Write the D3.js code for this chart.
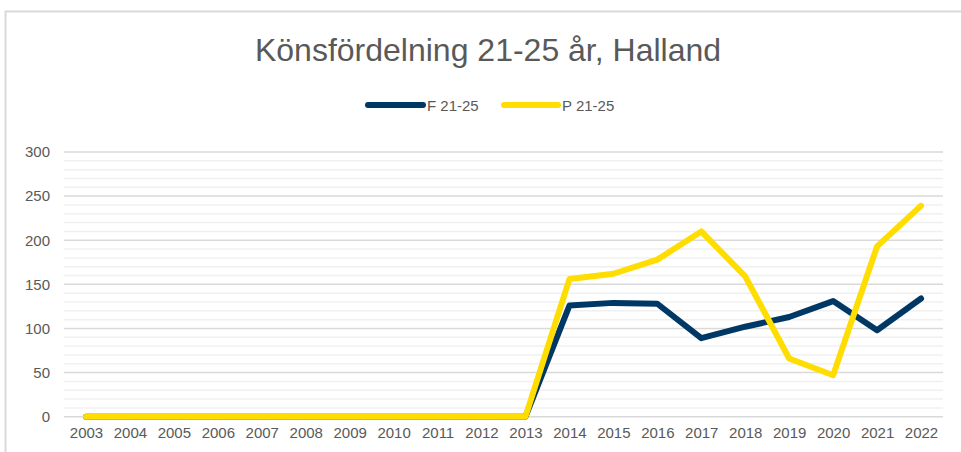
<!DOCTYPE html>
<html>
<head>
<meta charset="utf-8">
<script src="https://cdn.jsdelivr.net/npm/d3@7"></script>
<style>
  html, body { margin: 0; padding: 0; background: #fff; }
  svg { display: block; font-family: "Liberation Sans", Arial, sans-serif; }
</style>
</head>
<body>
<svg id="chart" width="961" height="452"></svg>
<script>
const title = "Könsfördelning 21-25 år, Halland";
const years = ["2003","2004","2005","2006","2007","2008","2009","2010","2011","2012","2013","2014","2015","2016","2017","2018","2019","2020","2021","2022"];
const seriesNames = ["F 21-25", "P 21-25"];
const seriesColors = ["#003865", "#FFDD00"];
const fValues = [0,0,0,0,0,0,0,0,0,0,0,126,129,128,89,102,113,131,98,134];
const pValues = [0,0,0,0,0,0,0,0,0,0,0,156,162,178,210,159,66,47,193,239];
const yTicks = [0,50,100,150,200,250,300];
const yMinorTicks = d3.range(0, 301, 10);

const svg = d3.select("#chart");

// frame
svg.append("rect")
  .attr("x", 5.5).attr("y", 11.5)
  .attr("width", 1000).attr("height", 600)
  .attr("fill", "#fff").attr("stroke", "#d9d9d9").attr("stroke-width", 2);

const x = d3.scalePoint().domain(years).range([64, 943]).padding(0.5);
const y = d3.scaleLinear().domain([0, 300]).range([416.7, 152]);

// minor gridlines
svg.append("g").selectAll("line")
  .data(yMinorTicks.filter(d => d % 50 !== 0))
  .join("line")
  .attr("x1", 64).attr("x2", 943)
  .attr("y1", d => y(d)).attr("y2", d => y(d))
  .attr("stroke", "#f0f0f0").attr("stroke-width", 1.5);

// major gridlines
svg.append("g").selectAll("line")
  .data(yTicks)
  .join("line")
  .attr("x1", 64).attr("x2", 943)
  .attr("y1", d => y(d)).attr("y2", d => y(d))
  .attr("stroke", "#d9d9d9").attr("stroke-width", 1.5);

// y axis labels
const yAxis = d3.axisLeft(y).tickValues(yTicks).tickSize(0).tickPadding(0);
const gy = svg.append("g").attr("transform", "translate(50,0)").call(yAxis);
gy.select(".domain").remove();
gy.selectAll("text").attr("font-size", 15).attr("fill", "#595959")
  .attr("font-family", "Liberation Sans, Arial, sans-serif");

// x axis labels
const xAxis = d3.axisBottom(x).tickSize(0).tickPadding(0);
const gx = svg.append("g").attr("transform", "translate(0,427)").call(xAxis);
gx.select(".domain").remove();
gx.selectAll("text").attr("font-size", 15).attr("fill", "#595959")
  .attr("font-family", "Liberation Sans, Arial, sans-serif");

// lines
const line = d3.line().x((d, i) => x(years[i])).y(d => y(d));
[fValues, pValues].forEach((vals, k) => {
  svg.append("path")
    .datum(vals)
    .attr("d", line)
    .attr("fill", "none")
    .attr("stroke", seriesColors[k])
    .attr("stroke-width", 6)
    .attr("stroke-linejoin", "round")
    .attr("stroke-linecap", "round");
});

// title
svg.append("text")
  .attr("x", 488).attr("y", 61)
  .attr("text-anchor", "middle")
  .attr("font-size", 32)
  .attr("fill", "#595959")
  .text(title);

// legend
const legendItems = [
  { x1: 368, x2: 423, tx: 427 },
  { x1: 504, x2: 558, tx: 562 }
];
legendItems.forEach((it, k) => {
  svg.append("line")
    .attr("x1", it.x1).attr("x2", it.x2)
    .attr("y1", 105).attr("y2", 105)
    .attr("stroke", seriesColors[k]).attr("stroke-width", 6)
    .attr("stroke-linecap", "round");
  svg.append("text")
    .attr("x", it.tx).attr("y", 110.5)
    .attr("font-size", 15).attr("fill", "#595959")
    .text(seriesNames[k]);
});
</script>
</body>
</html>
